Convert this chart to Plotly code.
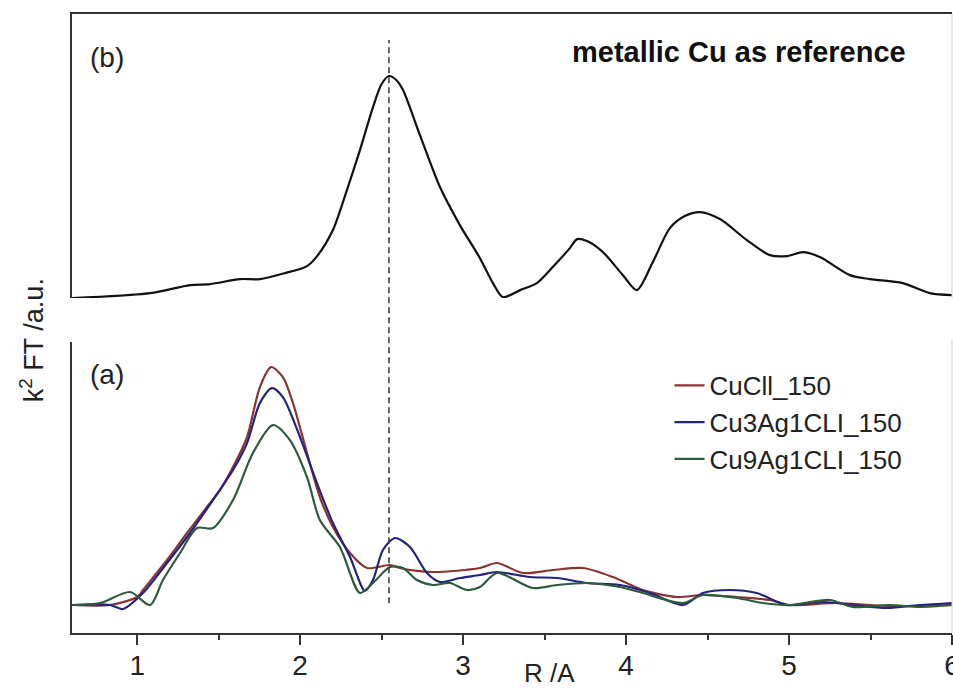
import plotly.graph_objects as go

# ---- data ----
r_ref = [0.600, 1.079, 1.324, 1.447, 1.631, 1.753, 1.907, 2.042, 2.109, 2.201, 2.287, 2.367,
         2.447, 2.500, 2.545, 2.590, 2.631, 2.735, 2.858, 2.980, 3.103, 3.183, 3.244, 3.350,
         3.453, 3.550, 3.655, 3.700, 3.760, 3.858, 3.980, 4.066, 4.164, 4.269, 4.360, 4.453,
         4.576, 4.741, 4.882, 4.987, 5.085, 5.189, 5.373, 5.496, 5.698, 5.864, 6.000]
cu_ref = [0.00, 0.25, 0.65, 0.70, 0.95, 0.95, 1.25, 1.60, 2.15, 3.40, 5.40, 7.40,
          9.55, 10.70, 11.10, 10.90, 10.40, 8.15, 5.55, 3.65, 2.00, 0.75, 0.05, 0.40,
          0.75, 1.55, 2.50, 2.95, 2.85, 2.30, 1.15, 0.40, 1.80, 3.50, 4.10, 4.30,
          3.95, 2.90, 2.15, 2.10, 2.30, 2.05, 1.15, 0.95, 0.75, 0.25, 0.15]

r_cucl = [0.600, 0.833, 1.000, 1.036, 1.183, 1.306, 1.428, 1.508, 1.588, 1.674, 1.753, 1.821,
          1.894, 1.956, 2.042, 2.121, 2.201, 2.306, 2.410, 2.551, 2.612, 2.815, 3.103, 3.207,
          3.367, 3.551, 3.735, 3.919, 4.103, 4.312, 4.471, 4.680, 4.882, 5.005, 5.293, 5.600,
          6.000]
v_cucl = [1.40, 1.40, 1.80, 2.15, 3.65, 5.00, 6.30, 7.15, 8.30, 9.80, 12.30, 13.30,
          12.80, 11.50, 9.00, 6.80, 5.30, 4.00, 3.25, 3.40, 3.25, 3.05, 3.25, 3.50,
          3.00, 3.15, 3.25, 2.80, 2.15, 1.80, 1.90, 1.80, 1.65, 1.40, 1.50, 1.35,
          1.40]

r_cu3 = [0.600, 0.833, 0.913, 1.036, 1.183, 1.324, 1.465, 1.588, 1.674, 1.753, 1.827, 1.894,
         1.999, 2.103, 2.201, 2.306, 2.398, 2.447, 2.508, 2.582, 2.674, 2.778, 2.858, 2.980,
         3.103, 3.207, 3.410, 3.576, 3.760, 3.962, 4.146, 4.349, 4.471, 4.637, 4.802, 4.987,
         5.207, 5.391, 5.600, 5.802, 6.000]
v_cu3 = [1.40, 1.40, 1.20, 2.00, 3.50, 5.00, 6.65, 8.15, 9.50, 11.50, 12.25, 11.80,
         9.80, 7.50, 5.50, 3.80, 2.10, 2.65, 4.15, 4.75, 4.30, 3.00, 2.55, 2.75,
         2.90, 3.05, 2.80, 2.75, 2.50, 2.40, 2.00, 1.40, 2.00, 2.15, 2.00, 1.40,
         1.55, 1.40, 1.25, 1.40, 1.50]

r_cu9 = [0.600, 0.772, 0.956, 1.079, 1.158, 1.263, 1.367, 1.465, 1.588, 1.710, 1.833, 1.937,
         2.042, 2.121, 2.244, 2.367, 2.447, 2.551, 2.631, 2.717, 2.815, 2.919, 3.023, 3.103,
         3.207, 3.428, 3.576, 3.760, 3.962, 4.103, 4.349, 4.471, 4.680, 4.840, 5.005, 5.250,
         5.391, 5.618, 5.802, 6.000]
v_cu9 = [1.40, 1.50, 2.05, 1.40, 2.65, 4.00, 5.25, 5.25, 6.65, 9.00, 10.40, 9.65,
         7.80, 5.65, 4.30, 2.00, 2.50, 3.30, 3.25, 2.65, 2.40, 2.50, 2.15, 2.30,
         3.00, 2.25, 2.40, 2.50, 2.30, 2.00, 1.50, 1.90, 1.75, 1.50, 1.40, 1.65,
         1.30, 1.40, 1.30, 1.40]

series_names = ["CuCll_150", "Cu3Ag1CLI_150", "Cu9Ag1CLI_150"]
series_colors = ["#8a3434", "#23237f", "#2f5a3e"]
x_ticks = [1, 2, 3, 4, 5, 6]
r_line = 2.545

FONT = "Arial, 'Liberation Sans', sans-serif"

fig = go.Figure()
fig.add_trace(go.Scatter(x=r_ref, y=cu_ref, mode="lines",
                         line=dict(color="#111", width=2.2, shape="spline", smoothing=0.8),
                         xaxis="x2", yaxis="y2", showlegend=False, name="metallic Cu"))
for name, rr, vv, col in zip(series_names, [r_cucl, r_cu3, r_cu9], [v_cucl, v_cu3, v_cu9], series_colors):
    fig.add_trace(go.Scatter(x=rr, y=vv, mode="lines", name=name,
                             line=dict(color=col, width=2.2, shape="spline", smoothing=0.8)))

fig.update_layout(
    width=953, height=690,
    margin=dict(l=72, r=1, t=14, b=57, autoexpand=False),
    paper_bgcolor="white", plot_bgcolor="white",
    font=dict(family=FONT, color="#222", size=26),
    xaxis=dict(range=[0.6, 6.0], anchor="y", domain=[0, 1], showline=True, linecolor="#333", linewidth=2,
               ticks="outside", ticklen=10, tickwidth=2, tickcolor="#333", tickvals=x_ticks,
               minor=dict(ticks="outside", ticklen=5, tickwidth=2, tickcolor="#333", dtick=0.5, tick0=0.5),
               showgrid=False, zeroline=False, automargin=False, ticklabelstandoff=-4,
               ticklabeloverflow="allow", tickfont=dict(size=28, color="#222")),
    yaxis=dict(domain=[0, 0.470], range=[0, 14.55], showline=True, linecolor="#333", linewidth=2,
               showticklabels=False, ticks="", showgrid=False, zeroline=False, automargin=False),
    xaxis2=dict(range=[0.6, 6.0], anchor="y2", side="top", matches="x", showline=True, linecolor="#333",
                linewidth=2, showticklabels=False, ticks="", showgrid=False, zeroline=False, automargin=False),
    yaxis2=dict(domain=[0.541, 1], range=[0, 14.2], anchor="x2", showline=True, linecolor="#333", linewidth=2,
                showticklabels=False, ticks="", showgrid=False, zeroline=False, automargin=False),
    legend=dict(x=0.679, y=0.438, xanchor="left", yanchor="top", bgcolor="rgba(0,0,0,0)",
                font=dict(size=26, color="#222"), tracegroupgap=0),
    shapes=[
        dict(type="line", xref="x", yref="paper", x0=r_line, x1=r_line, y0=0.048, y1=0.958,
             line=dict(color="#333", width=1.5, dash="6px,4px")),
        dict(type="line", xref="paper", yref="paper", x0=1, x1=1, y0=0.541, y1=1,
             line=dict(color="#d0d0d0", width=1)),
        dict(type="line", xref="paper", yref="paper", x0=1, x1=1, y0=0, y1=0.475,
             line=dict(color="#d0d0d0", width=1)),
    ],
    annotations=[
        dict(text="(b)", xref="paper", yref="paper", x=0.0398, y=0.930, xanchor="center", yanchor="middle",
             showarrow=False, font=dict(size=28, color="#222")),
        dict(text="(a)", xref="paper", yref="paper", x=0.0398, y=0.417, xanchor="center", yanchor="middle",
             showarrow=False, font=dict(size=28, color="#222")),
        dict(text="<b>metallic Cu as reference</b>", xref="paper", yref="paper", x=0.950, y=0.9386,
             xanchor="right", yanchor="middle", showarrow=False, font=dict(size=29, color="#111")),
        dict(text="R /A", xref="paper", yref="paper", x=0.543, y=-0.064, xanchor="center", yanchor="middle",
             showarrow=False, font=dict(size=26, color="#222")),
        dict(text="k<sup>2</sup> FT /a.u.", xref="paper", yref="paper", x=-0.0455, y=0.473,
             xanchor="center", yanchor="middle", textangle=-90, showarrow=False,
             font=dict(size=27, color="#222")),
    ],
)

fig.write_html("out.html", config={"displayModeBar": False},
               post_script="document.body.style.margin='0';document.body.style.overflow='hidden';")
